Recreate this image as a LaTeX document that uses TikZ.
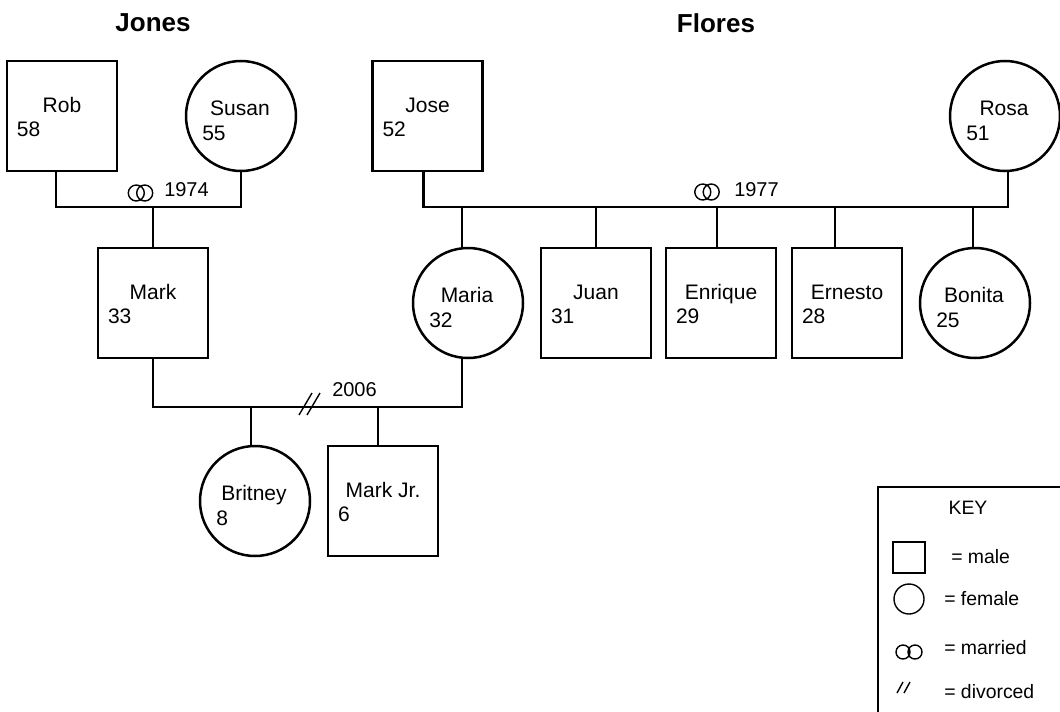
\documentclass[tikz,border=0pt]{standalone}
\usepackage{fontspec}
\setmainfont{Liberation Sans}
\usetikzlibrary{positioning,calc}

\begin{document}
\begin{tikzpicture}[x=0.5pt, y=-0.5pt, line width=1.25pt,
    every node/.style={font=\fontsize{10.5}{12}\selectfont, inner sep=0pt},
    male/.style={draw, minimum size=55pt},
    female/.style={draw, circle, minimum size=55pt},
    family/.style={font=\bfseries\fontsize{13}{15}\selectfont},
    ring/.style={line width=0.7pt},
    year/.style={anchor=west, font=\fontsize{10}{12}\selectfont},
    keytext/.style={anchor=west, font=\fontsize{9.7}{12}\selectfont}]
    \useasboundingbox (0,0) rectangle (1060,712);

    \node[family] (jones) at (153,23) {Jones};
    \node[family] (flores) at (716,23) {Flores};

    % males
    \foreach \n/\x/\y/\nm/\ag in {rob/62/116/Rob/58, jose/427.5/116/Jose/52, mark/153/303/Mark/33,
        juan/596/303/Juan/31, enrique/721/303/Enrique/29, ernesto/847/303/Ernesto/28, markjr/383/501/Mark Jr./6}
    {
        \node[male] (\n) at (\x,\y) {};
        \node[anchor=base] (\n-name) at ([shift={(0,-3.5)}]\n.center) {\nm};
        \node[anchor=base west] (\n-age) at ([shift={(10,20.5)}]\n.west) {\ag};
    }
    % females
    \foreach \n/\x/\y/\nm/\ag in {susan/241/116/Susan/55, rosa/1005/116/Rosa/51, maria/468/303/Maria/32,
        bonita/975/303/Bonita/25, britney/255/501/Britney/8}
    {
        \node[female] (\n) at (\x,\y) {};
        \node[anchor=base] (\n-name) at ([shift={(-1,-0.5)}]\n.center) {\nm};
        \node[anchor=base west] (\n-age) at ([shift={(-40,24)}]\n.center) {\ag};
    }

    % marriages
    \coordinate (jm) at (153,207);
    \coordinate (fm) at (716,207);
    \coordinate (mm) at (300,407);

    \draw ([xshift=-3pt]rob.south) |- (jm) -| (susan.south);
    \draw (jm) -- (mark.north);
    \draw ([xshift=-2pt]jose.south) |- (fm) -| ([xshift=1.5pt]rosa.south);
    \foreach \c/\s in {maria/-3pt, juan/0pt, enrique/-2pt, ernesto/-6pt, bonita/-1pt}
        \draw ([xshift=\s]\c.north) -- ([xshift=\s]\c.north |- fm);
    \draw (mark.south) |- (mm) -| ([xshift=-3pt]maria.south);
    \foreach \c/\s in {britney/-2pt, markjr/-2.5pt}
        \draw ([xshift=\s]\c.north) -- ([xshift=\s]\c.north |- mm);

    \draw[ring] (136.3,193) circle (4pt) (144.7,193) circle (4pt);
    \draw[ring] (702.8,192) circle (4pt) (711.2,192) circle (4pt);
    \draw[ring] (299,415) -- (312,393) (307,415) -- (320,393);
    \node[year] (jones-year) at (163,190) {1974};
    \node[year] (flores-year) at (733,190) {1977};
    \node[year] (split-year) at (331,390) {2006};

    % key
    \draw[line width=0.85pt] (878,487) rectangle (1070,720);
    \node[font=\fontsize{9.7}{12}\selectfont] (key) at (968,508) {KEY};
    \draw[ring] (893,542) rectangle (925,573);
    \node[keytext] (key-male) at (950,557) {= male};
    \draw[ring] (909,599) circle (7.5pt);
    \node[keytext] (key-female) at (943,599) {= female};
    \draw[ring] (903,652) circle (3.5pt) (915,652) circle (3.5pt);
    \node[keytext] (key-married) at (943,648) {= married};
    \draw[ring] (897,693) -- (903,682) (904,693) -- (910,682);
    \node[keytext] (key-divorced) at (943,692) {= divorced};
\end{tikzpicture}
\end{document}
